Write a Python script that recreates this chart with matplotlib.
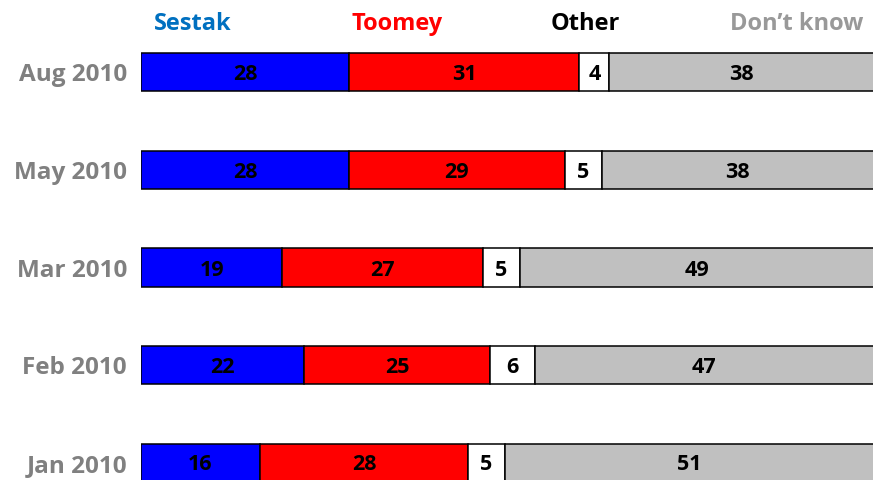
import matplotlib.pyplot as plt

fechas = ['Aug 2010', 'May 2010', 'Mar 2010', 'Feb 2010', 'Jan 2010']
sestak = [28, 28, 19, 22, 16]
toomey = [31, 29, 27, 25, 28]
otro = [4, 5, 5, 6, 5]
no_sabe = [38, 38, 49, 47, 51]

series = [sestak, toomey, otro, no_sabe]
nombres = ['Sestak', 'Toomey', 'Other', 'Don\u2019t know']
colores = ['#0000FF', '#FF0000', '#FFFFFF', '#C0C0C0']
colores_titulo = ['#0070C0', '#FF0000', '#000000', '#999999']

plt.rcParams['font.family'] = ['Open Sans', 'DejaVu Sans']
plt.rcParams['font.weight'] = 'bold'

fig = plt.figure(figsize=(8.73, 4.8), dpi=100)
ax = fig.add_axes([141 / 873, 0, 732 / 873, 1])

filas = list(range(len(fechas)))
izq = [0] * len(fechas)
for valores, color in zip(series, colores):
    barras = ax.barh(filas, valores, left=izq, height=0.39, color=color,
                     edgecolor='black', linewidth=1.1)
    etiquetas = ax.bar_label(barras, labels=[str(v) for v in valores], label_type='center',
                             fontsize=15.5, fontweight='bold', color='black')
    for t in etiquetas:
        t.set_va('center_baseline')
    izq = [a + b for a, b in zip(izq, valores)]

ax.set_xlim(0, 98.5)
ax.set_ylim(4.174, -0.737)
ax.set_yticks(filas)
ax.set_yticklabels(fechas, fontsize=17.5, fontweight='bold', color='#808080')
ax.tick_params(axis='y', length=0, pad=10)
ax.set_xticks([])
for s in ax.spines.values():
    s.set_visible(False)

# encabezados en lugar de leyenda
pos_x = [193, 397, 585, 797]
for nombre, c, x in zip(nombres, colores_titulo, pos_x):
    fig.text(x / 873, 1 - 24 / 480, nombre, color=c, fontsize=17, fontweight='bold',
             ha='center', va='center')

plt.savefig('out.png', dpi=100)
